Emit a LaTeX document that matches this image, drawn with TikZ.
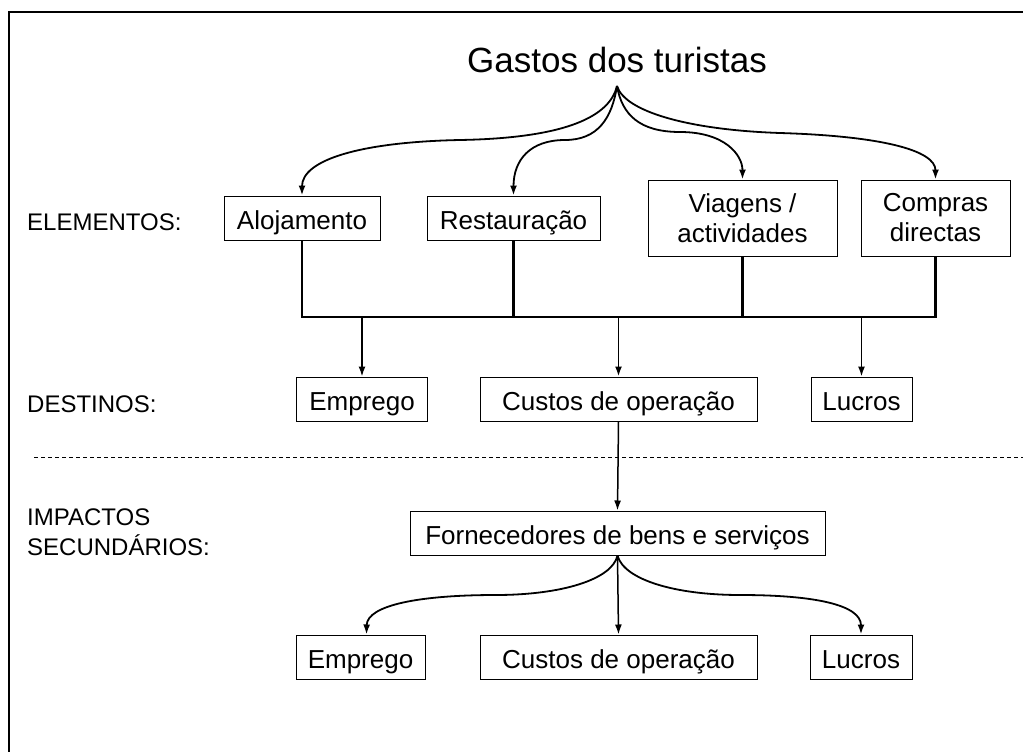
\documentclass[tikz,border=0pt]{standalone}
\usepackage{fontspec}
\setmainfont{Liberation Sans}
\usetikzlibrary{arrows.meta}
\begin{document}
\begin{tikzpicture}[x=1pt,y=-1pt,
  boxbase/.style={draw,line width=1pt,inner sep=0pt,font=\fontsize{26}{30}\selectfont},
  onebox/.style={boxbase,text height=25pt,text depth=3pt},
  twobox/.style={boxbase,align=center},
  lbl/.style={anchor=west,align=left,inner sep=0pt,font=\fontsize{24}{30}\selectfont},
  conn/.style={line width=1.8pt,-{Latex[length=10pt,width=7pt]}},
  bus/.style={line width=2.2pt}]
\useasboundingbox (0,0) rectangle (1023,752);
% frame
\draw[line width=1.2pt] (9,752) -- (9,12) -- (1023,12);
% title
\node[inner sep=0pt,font=\fontsize{35}{40}\selectfont] (title) at (617,60) {Gastos dos turistas};
\coordinate (br) at (617,86);
% labels
\node[lbl] (lelem) at (27,222) {ELEMENTOS:};
\node[lbl] (ldest) at (27,404) {DESTINOS:};
\node[lbl] (limp) at (27,532) {IMPACTOS\\SECUNDÁRIOS:};
% element boxes
\node[onebox,minimum width=156pt,minimum height=44pt] (aloj) at (302,218) {Alojamento};
\node[onebox,minimum width=173pt,minimum height=44pt] (rest) at (513.5,218) {Restauração};
\node[twobox,minimum width=189pt,minimum height=76pt] (viag) at (742.5,218) {Viagens /\\actividades};
\node[twobox,minimum width=149pt,minimum height=76pt] (comp) at (935.5,218) {Compras\\directas};
% destinos
\node[onebox,minimum width=131pt,minimum height=44pt] (emp1) at (362,399) {Emprego};
\node[onebox,minimum width=277pt,minimum height=44pt] (cust1) at (618.5,399) {Custos de operação};
\node[onebox,minimum width=101pt,minimum height=44pt] (lucr1) at (861.5,399) {Lucros};
% fornecedores
\node[onebox,minimum width=415pt,minimum height=44pt] (forn) at (617.5,533) {Fornecedores de bens e serviços};
% secondary
\node[onebox,minimum width=129pt,minimum height=44pt] (emp2) at (360.5,657) {Emprego};
\node[onebox,minimum width=277pt,minimum height=44pt] (cust2) at (618.5,657) {Custos de operação};
\node[onebox,minimum width=102pt,minimum height=44pt] (lucr2) at (861,657) {Lucros};
% dashed separator
\draw[dashed,line width=0.8pt,dash pattern=on 4pt off 3pt] (34,457) -- (1023,457);
% top curves
\draw[conn] (br) .. controls (610,115) and (570,138) .. (460,140) .. controls (360,142) and (302,160) .. (aloj.north);
\draw[conn] (br) .. controls (612,118) and (598,140) .. (565,140) .. controls (530,140) and (513.5,160) .. (rest.north);
\draw[conn] (br) .. controls (622,115) and (640,132) .. (680,132) .. controls (725,132) and (742.5,155) .. (viag.north);
\draw[conn] (br) .. controls (625,112) and (690,130) .. (780,133) .. controls (880,136) and (935.5,150) .. (comp.north);
% bus
\coordinate (busy) at (0,317);
\draw[bus] (aloj.south) -- (aloj.south |- busy) -- (comp.south |- busy) -- (comp.south);
\draw[bus] (rest.south) -- (rest.south |- busy);
\draw[bus] (viag.south) -- (viag.south |- busy);
\draw[conn,line width=1.5pt] (emp1.north |- busy) -- (emp1.north);
\draw[conn,line width=1.8pt] (cust1.north |- busy) -- (cust1.north);
\draw[conn,line width=1.5pt] (lucr1.north |- busy) -- (lucr1.north);
% to fornecedores
\draw[conn,line width=1.5pt] (cust1.south) -- (forn.north);
% bottom curves
\draw[conn] (forn.south) .. controls (612,580) and (560,595) .. (496,595) .. controls (420,595) and (367,605) .. ([xshift=6pt]emp2.north);
\draw[conn,line width=1.5pt] (forn.south) -- (cust2.north);
\draw[conn] (forn.south) .. controls (624,580) and (676,595) .. (740,595) .. controls (815,595) and (861,605) .. (lucr2.north);
\end{tikzpicture}
\end{document}
